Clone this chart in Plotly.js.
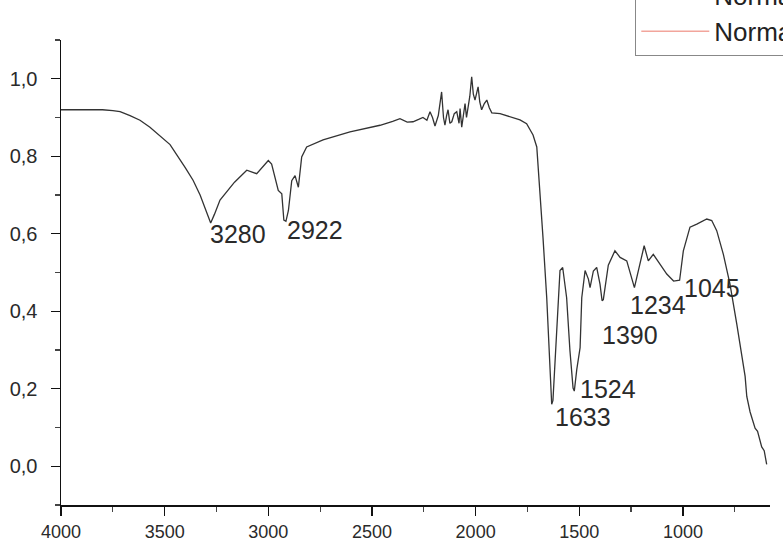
<!DOCTYPE html>
<html><head><meta charset="utf-8">
<script src="https://cdn.plot.ly/plotly-3.0.1.min.js"></script>
<style>html,body{margin:0;padding:0;background:#fff;}#chart{width:783px;height:545px;}</style>
</head><body><div id="chart"></div>
<script>
const wavenumber = [4000,3900,3800,3750,3715,3667,3619,3571,3474,3400,3363,3329,3290,3278,3260,3233,3163,3104,3056,3000,2984,2952,2935,2925,2915,2903,2887,2871,2855,2839,2815,2736,2606,2461,2400,2365,2330,2302,2275,2254,2235,2220,2208,2196,2180,2164,2155,2148,2140,2133,2124,2115,2103,2091,2080,2075,2067,2059,2051,2044,2037,2028,2019,2011,2003,1995,1988,1980,1971,1958,1946,1934,1922,1882,1820,1786,1754,1723,1705,1689,1675,1657,1641,1633,1627,1609,1593,1580,1561,1545,1530,1524,1512,1496,1488,1472,1456,1448,1432,1416,1400,1390,1384,1360,1328,1303,1271,1234,1207,1187,1167,1143,1110,1078,1045,1016,998,966,933,885,861,837,805,773,740,708,700,692,676,652,640,620,608,596];
const absorbance = [0.92,0.92,0.92,0.918,0.915,0.905,0.893,0.875,0.83,0.77,0.738,0.70,0.645,0.628,0.65,0.687,0.733,0.764,0.755,0.789,0.78,0.712,0.703,0.635,0.632,0.66,0.737,0.75,0.72,0.798,0.824,0.842,0.863,0.88,0.89,0.897,0.888,0.889,0.895,0.9,0.893,0.915,0.9,0.878,0.905,0.966,0.9,0.88,0.905,0.92,0.885,0.889,0.91,0.915,0.885,0.923,0.875,0.905,0.936,0.9,0.92,0.955,1.005,0.96,0.945,0.96,0.979,0.94,0.92,0.936,0.945,0.925,0.912,0.91,0.9,0.894,0.884,0.855,0.824,0.712,0.59,0.435,0.262,0.16,0.17,0.349,0.505,0.513,0.435,0.298,0.202,0.194,0.25,0.306,0.435,0.505,0.483,0.461,0.504,0.513,0.47,0.427,0.43,0.519,0.556,0.539,0.53,0.461,0.521,0.569,0.53,0.547,0.521,0.496,0.478,0.48,0.556,0.617,0.625,0.638,0.634,0.608,0.547,0.47,0.366,0.25,0.232,0.18,0.14,0.098,0.09,0.05,0.04,0.005];
const seriesNames = ["Normalized Absorbance", "Normalized Absorbance (ref)"];
const peakLabels = ["3280","2922","1633","1524","1390","1234","1045"];
const peakLabelX = [3291,2920,1627,1506,1400,1265,1004];
const peakLabelY = [0.60,0.61,0.127,0.20,0.338,0.415,0.461];
const xTicks = [4000,3500,3000,2500,2000,1500,1000];

const traces = [
  {x: wavenumber, y: absorbance, type:'scatter', mode:'lines', name: seriesNames[0],
   line:{color:'#333', width:1.3}},
  {x: [null], y: [null], type:'scatter', mode:'lines', name: seriesNames[1],
   line:{color:'#f2a59c', width:1.5}}
];

const annotations = peakLabels.map((t,i)=>({
  x: peakLabelX[i], y: peakLabelY[i], xref:'x', yref:'y', text:t, showarrow:false,
  xanchor:'left', yanchor:'middle', font:{family:'Liberation Sans, Arial, sans-serif', size:25, color:'#2a2a2a'}
}));

const layout = {
  width:783, height:545,
  margin:{l:61, r:13, t:40, b:40, autoexpand:false},
  paper_bgcolor:'#fff', plot_bgcolor:'#fff',
  separators: ',.',
  font:{family:'Liberation Sans, Arial, sans-serif', size:20, color:'#2a2a2a'},
  showlegend:true,
  legend:{x:0.81, xanchor:'left', y:0.9656, yanchor:'bottom', bgcolor:'#fff',
    bordercolor:'#888', borderwidth:1, font:{size:26, color:'#222'}, tracegroupgap:0, itemwidth:68},
  xaxis:{range:[4000,580], tickvals:xTicks, ticktext:xTicks.map(String), tickfont:{size:18},
    showline:true, linecolor:'#111', linewidth:1.5, ticks:'outside', ticklen:9, tickwidth:1.2, tickcolor:'#111',
    minor:{dtick:250, tick0:0, ticks:'outside', ticklen:5, tickcolor:'#444', showgrid:false},
    showgrid:false, zeroline:false, mirror:false, ticklabelstandoff:1},
  yaxis:{range:[-0.1,1.1], tick0:0, dtick:0.2, tickformat:'.1f',
    showline:true, linecolor:'#111', linewidth:1.5, ticks:'outside', ticklen:9, tickwidth:1.2, tickcolor:'#111',
    minor:{dtick:0.1, ticks:'outside', ticklen:5, tickcolor:'#444', showgrid:false},
    showgrid:false, zeroline:false, mirror:false, ticklabelstandoff:9},
  annotations: annotations
};
Plotly.newPlot('chart', traces, layout, {staticPlot:true, displayModeBar:false});
</script></body></html>
